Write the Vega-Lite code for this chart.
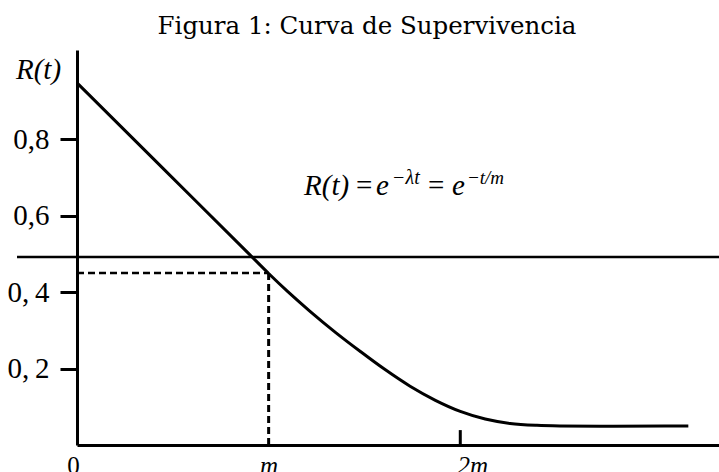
{
  "$schema": "https://vega.github.io/schema/vega-lite/v6.json",
  "width": 642,
  "height": 395,
  "autosize": {"type": "none"},
  "padding": {"left": 77, "top": 50, "right": 0, "bottom": 27},
  "background": "white",
  "title": {
    "text": "Figura 1: Curva de Supervivencia",
    "font": "DejaVu Serif",
    "fontSize": 24.5,
    "fontWeight": "normal",
    "color": "black",
    "anchor": "middle",
    "dx": -31,
    "offset": -8,
    "baseline": "alphabetic"
  },
  "config": {"view": {"stroke": null}},
  "layer": [
    {
      "data": {
        "values": [
          {"t": 0, "R": 0.948},
          {"t": 0.45, "R": 0.7235},
          {"t": 0.9, "R": 0.499},
          {"t": 1.0, "R": 0.449},
          {"t": 1.1, "R": 0.4015},
          {"t": 1.216, "R": 0.35},
          {"t": 1.35, "R": 0.2943},
          {"t": 1.477, "R": 0.2454},
          {"t": 1.6, "R": 0.2},
          {"t": 1.738, "R": 0.1539},
          {"t": 1.87, "R": 0.117},
          {"t": 2.0, "R": 0.088},
          {"t": 2.13, "R": 0.068},
          {"t": 2.26, "R": 0.0565},
          {"t": 2.4, "R": 0.0515},
          {"t": 2.52, "R": 0.05},
          {"t": 2.8, "R": 0.049},
          {"t": 3.19, "R": 0.05}
        ]
      },
      "mark": {"type": "line", "color": "black", "strokeWidth": 3, "interpolate": "monotone"},
      "encoding": {
        "x": {
          "field": "t",
          "type": "quantitative",
          "scale": {"domain": [0, 3.35], "nice": false, "zero": false},
          "axis": {
            "values": [0, 1, 2],
            "labelExpr": "datum.value == 0 ? '0' : datum.value == 1 ? 'm' : '2m'",
            "ticks": false,
            "grid": false,
            "title": null,
            "domainWidth": 3,
            "domainColor": "black",
            "labelFont": "'Liberation Serif', 'Times New Roman', Times, serif",
            "labelFontSize": 25,
            "labelColor": "black",
            "labelPadding": 8,
            "labelFlush": false,
            "labelOverlap": false,
            "labelBound": false,
            "labelFontStyle": {"condition": {"test": "datum.value == 0", "value": "normal"}, "value": "italic"},
            "labelOffset": {"condition": [{"test": "datum.value == 0", "value": -4}, {"test": "datum.value == 2", "value": 12}], "value": 0}
          }
        },
        "y": {
          "field": "R",
          "type": "quantitative",
          "scale": {"domain": [0, 1.034], "nice": false},
          "axis": {
            "values": [0.2, 0.4, 0.6, 0.8],
            "labelExpr": "datum.value > 0.7 ? '0,8' : datum.value > 0.5 ? '0,6' : datum.value > 0.3 ? '0,\u20094' : '0,\u20092'",
            "tickSize": 17,
            "tickWidth": 3,
            "tickColor": "black",
            "domainWidth": 3,
            "domainColor": "black",
            "grid": false,
            "labelFont": "'Liberation Serif', 'Times New Roman', Times, serif",
            "labelFontSize": 29,
            "labelColor": "black",
            "labelPadding": 11,
            "labelOverlap": false,
            "labelBound": false,
            "labelFlush": false,
            "title": "R(t)",
            "titleAngle": 0,
            "titleFont": "'Liberation Serif', 'Times New Roman', Times, serif",
            "titleFontStyle": "italic",
            "titleFontWeight": "normal",
            "titleFontSize": 29,
            "titleColor": "black",
            "titleX": -39,
            "titleY": 28,
            "titleAlign": "center",
            "titleBaseline": "alphabetic"
          }
        }
      }
    },
    {
      "data": {"values": [{}]},
      "mark": {"type": "rule", "color": "black", "strokeWidth": 2.5},
      "encoding": {"x": {"datum": -0.313}, "x2": {"datum": 3.35}, "y": {"datum": 0.492}}
    },
    {
      "data": {"values": [{}]},
      "mark": {"type": "rule", "color": "black", "strokeWidth": 2.5, "strokeDash": [7, 4]},
      "encoding": {"x": {"datum": 0}, "x2": {"datum": 1.0}, "y": {"datum": 0.45}}
    },
    {
      "data": {"values": [{}]},
      "mark": {"type": "rule", "color": "black", "strokeWidth": 3, "strokeDash": [7, 4]},
      "encoding": {"x": {"datum": 1.0}, "y": {"datum": 0}, "y2": {"datum": 0.45}}
    },
    {
      "data": {"values": [{}]},
      "mark": {"type": "rule", "color": "black", "strokeWidth": 3},
      "encoding": {"x": {"datum": 2}, "y": {"datum": 0}, "y2": {"datum": 0.039}}
    },
    {
      "data": {"values": [{}]},
      "mark": {"type": "text", "text": "R(t)", "font": "'Liberation Serif', 'Times New Roman', Times, serif", "fontSize": 29, "fontStyle": "italic", "align": "left", "baseline": "alphabetic", "color": "black"},
      "encoding": {"x": {"datum": 1.185}, "y": {"datum": 0.6545}}
    },
    {
      "data": {"values": [{}]},
      "mark": {"type": "text", "text": "=", "font": "'Liberation Serif', 'Times New Roman', Times, serif", "fontSize": 29, "align": "left", "baseline": "alphabetic", "color": "black"},
      "encoding": {"x": {"datum": 1.456}, "y": {"datum": 0.6545}}
    },
    {
      "data": {"values": [{}]},
      "mark": {"type": "text", "text": "e", "font": "'Liberation Serif', 'Times New Roman', Times, serif", "fontSize": 29, "fontStyle": "italic", "align": "left", "baseline": "alphabetic", "color": "black"},
      "encoding": {"x": {"datum": 1.56}, "y": {"datum": 0.6545}}
    },
    {
      "data": {"values": [{}]},
      "mark": {"type": "text", "text": "\u2212\u03bbt", "font": "'Liberation Serif', 'Times New Roman', Times, serif", "fontSize": 20, "fontStyle": "italic", "align": "left", "baseline": "alphabetic", "color": "black"},
      "encoding": {"x": {"datum": 1.644}, "y": {"datum": 0.683}}
    },
    {
      "data": {"values": [{}]},
      "mark": {"type": "text", "text": "=", "font": "'Liberation Serif', 'Times New Roman', Times, serif", "fontSize": 29, "align": "left", "baseline": "alphabetic", "color": "black"},
      "encoding": {"x": {"datum": 1.832}, "y": {"datum": 0.6545}}
    },
    {
      "data": {"values": [{}]},
      "mark": {"type": "text", "text": "e", "font": "'Liberation Serif', 'Times New Roman', Times, serif", "fontSize": 29, "fontStyle": "italic", "align": "left", "baseline": "alphabetic", "color": "black"},
      "encoding": {"x": {"datum": 1.957}, "y": {"datum": 0.6545}}
    },
    {
      "data": {"values": [{}]},
      "mark": {"type": "text", "text": "\u2212t/m", "font": "'Liberation Serif', 'Times New Roman', Times, serif", "fontSize": 19, "fontStyle": "italic", "align": "left", "baseline": "alphabetic", "color": "black"},
      "encoding": {"x": {"datum": 2.035}, "y": {"datum": 0.683}}
    }
  ]
}
